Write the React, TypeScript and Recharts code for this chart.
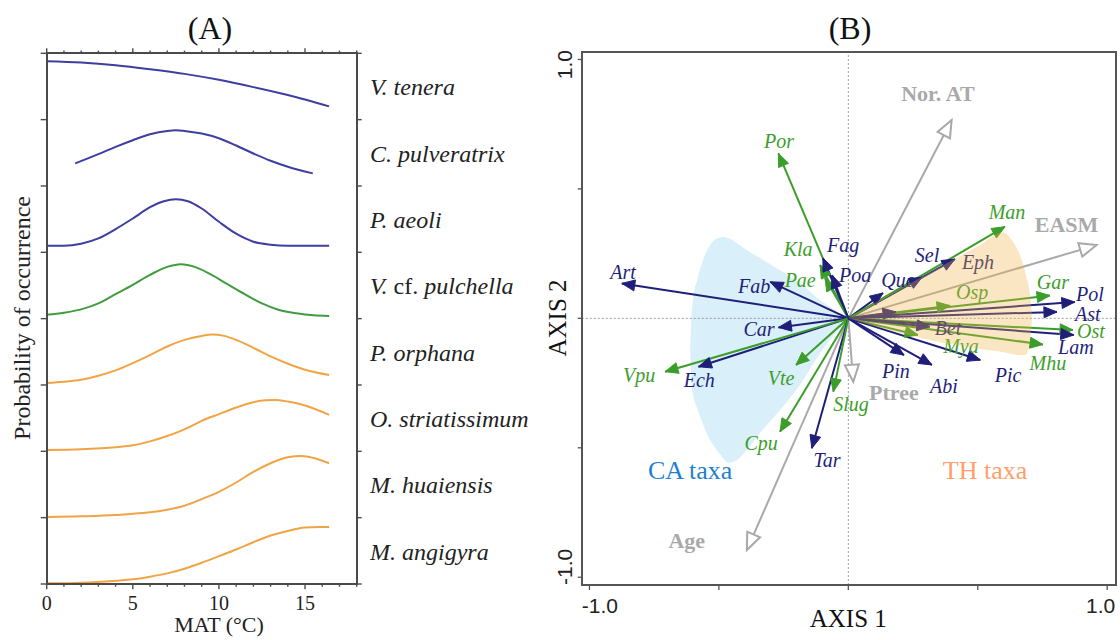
import React from "react";
import {
  LineChart, Line, XAxis, YAxis, ComposedChart, Area, Scatter, ReferenceLine,
} from "recharts";

const SERIF = "'Liberation Serif', 'Times New Roman', serif";
const SANS = "'Liberation Sans', Arial, sans-serif";
const AXIS = "#4a4a4a";
const FRAME_B = "#555";

// ---------- panel A: response curves (probability 0..1 inside each band) ----------
const speciesNames = [
  "V. tenera", "C. pulveratrix", "P. aeoli", "V. cf. pulchella",
  "P. orphana", "O. striatissimum", "M. huaiensis", "M. angigyra",
];
const BLUE = "#3c3f9f";
const GREEN = "#3f9c3f";
const ORANGE = "#f0a445";
const speciesColors = [BLUE, BLUE, BLUE, GREEN, ORANGE, ORANGE, ORANGE, ORANGE];

const tenX = [0, 2, 4, 6, 8, 10, 12, 14, 16.4];
const tenP = [0.88, 0.86, 0.82, 0.76, 0.69, 0.6, 0.49, 0.37, 0.2];
const pulvX = [1.65, 3, 4, 5, 6, 7, 7.5, 8, 9, 10, 11, 12, 13, 14, 15.45];
const pulvP = [0.34, 0.48, 0.59, 0.69, 0.78, 0.83, 0.84, 0.83, 0.79, 0.72, 0.61, 0.49, 0.38, 0.29, 0.19];
const aeoX = [0, 1, 2, 3, 4, 5, 6, 6.8, 7.5, 8.2, 9, 10, 11, 12, 13, 14, 15, 16.4];
const aeoP = [0.1, 0.1, 0.13, 0.21, 0.35, 0.51, 0.68, 0.77, 0.8, 0.77, 0.66, 0.46, 0.28, 0.16, 0.115, 0.1, 0.1, 0.1];
const pulchX = [0, 1, 2, 3, 4, 5, 6, 7, 7.8, 8.6, 9.5, 10.5, 11.5, 12.5, 13.5, 14.5, 15.5, 16.4];
const pulchP = [0.06, 0.09, 0.14, 0.23, 0.37, 0.51, 0.66, 0.78, 0.82, 0.78, 0.67, 0.52, 0.37, 0.23, 0.13, 0.08, 0.05, 0.04];
const orphX = [0, 1, 2, 3, 4, 5, 6, 7, 8, 9, 9.6, 10.3, 11, 12, 13, 14, 15, 16.4];
const orphP = [0.03, 0.05, 0.08, 0.14, 0.22, 0.33, 0.45, 0.58, 0.68, 0.74, 0.76, 0.74, 0.68, 0.56, 0.43, 0.32, 0.23, 0.15];
const strX = [0, 2, 4, 5, 6, 7, 8, 9, 10, 11, 12, 12.7, 13.3, 14, 15, 16.4];
const strP = [0.02, 0.03, 0.06, 0.09, 0.15, 0.23, 0.33, 0.46, 0.56, 0.66, 0.74, 0.77, 0.775, 0.75, 0.69, 0.55];
const huaX = [0, 2, 4, 5, 6, 7, 8, 9, 10, 11, 12, 13, 14, 14.8, 15.5, 16.4];
const huaP = [0.01, 0.02, 0.04, 0.06, 0.08, 0.12, 0.18, 0.28, 0.39, 0.53, 0.69, 0.82, 0.91, 0.93, 0.9, 0.82];
const angX = [0, 2, 4, 5, 6, 7, 8, 9, 10, 11, 12, 13, 14, 15, 15.8, 16.4];
const angP = [0.01, 0.02, 0.05, 0.07, 0.11, 0.16, 0.23, 0.32, 0.42, 0.52, 0.63, 0.73, 0.8, 0.85, 0.86, 0.86];

const curveX = [tenX, pulvX, aeoX, pulchX, orphX, strX, huaX, angX];
const curveP = [tenP, pulvP, aeoP, pulchP, orphP, strP, huaP, angP];

const matTicks = [0, 1, 2, 3, 4, 5, 6, 7, 8, 9, 10, 11, 12, 13, 14, 15, 16, 17, 18];
const matLabels = [0, 5, 10, 15];
const bandTicks = [0, 1, 2, 3, 4, 5, 6, 7, 8];
const nameTicks = [0, 0.5, 1, 1.5, 2, 2.5, 3, 3.5, 4, 4.5, 5, 5.5, 6, 6.5, 7, 7.5, 8];
const MAT_DOM: [number, number] = [0, 18];
const BAND_DOM: [number, number] = [0, 8];

// ---------- panel B: biplot ----------
const taxaNames = [
  "Art", "Fab", "Car", "Ech", "Vpu", "Vte", "Cpu", "Tar", "Slug", "Por", "Kla",
  "Fag", "Pae", "Poa", "Que", "Sel", "Eph", "Man", "Osp", "Gar", "Pol", "Ast",
  "Ost", "Lam", "Mhu", "Bet", "Mya", "Pin", "Abi", "Pic", "",
];
const taxaGroup = [
  "p", "p", "p", "p", "s", "s", "s", "p", "s", "s", "s",
  "p", "s", "p", "p", "p", "p", "s", "s", "s", "p", "p",
  "s", "p", "s", "p", "s", "p", "p", "p", "p",
];
const taxaAxis1 = [
  -0.875, -0.302, -0.27, -0.579, -0.708, -0.202, -0.264, -0.141, -0.058, -0.27, -0.109,
  -0.098, -0.09, -0.063, 0.134, 0.285, 0.412, 0.605, 0.393, 0.779, 0.875, 0.806,
  0.868, 0.871, 0.752, 0.315, 0.269, 0.215, 0.323, 0.51, 0.184,
];
const taxaAxis2 = [
  0.135, 0.141, -0.035, -0.187, -0.206, -0.18, -0.438, -0.502, -0.283, 0.637, 0.206,
  0.233, 0.156, 0.167, 0.098, 0.159, 0.229, 0.354, 0.049, 0.088, 0.063, 0.025,
  -0.045, -0.064, -0.101, -0.032, -0.064, -0.142, -0.18, -0.161, 0.025,
];
const taxaLabelX = [
  -0.87, -0.364, -0.345, -0.576, -0.808, -0.26, -0.337, -0.082, 0.01, -0.268, -0.194,
  -0.02, -0.186, 0.026, 0.192, 0.304, 0.501, 0.613, 0.478, 0.79, 0.933, 0.925,
  0.937, 0.879, 0.771, 0.385, 0.435, 0.184, 0.369, 0.617, 0,
];
const taxaLabelY = [
  0.179, 0.125, -0.041, -0.238, -0.219, -0.231, -0.481, -0.547, -0.331, 0.685, 0.268,
  0.283, 0.148, 0.167, 0.148, 0.244, 0.217, 0.41, 0.102, 0.14, 0.094, 0.017,
  -0.049, -0.111, -0.173, -0.037, -0.107, -0.203, -0.261, -0.219, 0,
];

const envNames = ["Nor. AT", "EASM", "Age", "Ptree"];
const envAxis1 = [0.399, 0.959, -0.392, 0.019];
const envAxis2 = [0.766, 0.283, -0.895, -0.245];
const envLabelX = [0.346, 0.843, -0.624, 0.176];
const envLabelY = [0.87, 0.364, -0.86, -0.285];

// shaded groups (x, lower, upper)
const caX = [-0.611, -0.607, -0.6, -0.584, -0.565, -0.534, -0.503, -0.484, -0.464, -0.437, -0.399, -0.341, -0.264, -0.187, -0.109, 0];
const caLow = [-0.122, -0.231, -0.296, -0.346, -0.4, -0.47, -0.516, -0.539, -0.558, -0.551, -0.516, -0.443, -0.354, -0.257, -0.134, 0];
const caHigh = [-0.122, -0.014, 0.071, 0.148, 0.214, 0.283, 0.31, 0.314, 0.31, 0.295, 0.268, 0.233, 0.186, 0.136, 0.071, 0];
const thX = [0, 0.084, 0.199, 0.354, 0.508, 0.597, 0.632, 0.663, 0.686, 0.702, 0.709];
const thLow = [0, -0.026, -0.057, -0.092, -0.118, -0.13, -0.138, -0.142, -0.142, -0.084, -0.007];
const thHigh = [0, 0.048, 0.113, 0.198, 0.283, 0.333, 0.302, 0.244, 0.167, 0.09, 0.02];

const groupNames = ["CA taxa", "TH taxa"];
const groupX = [-0.611, 0.528];
const groupY = [-0.62, -0.62];
const groupColors = ["#1f7fd0", "#ff9e6a"];

const ordTicks = [-1, -0.5, 0, 0.5, 1];
const X_DOM: [number, number] = [-1.03, 1.034];
const Y_DOM: [number, number] = [-1.03, 1.03];

const NAVY = "#1f1f7a";
const SNAIL = "#3c9e2a";
const GRAY = "#a9a9a9";

// plot-area sizes that follow from the chart sizes and margins below
const A_MARGIN = { top: 52.3, right: 187.3, bottom: 55, left: 45.7 };
const A_W = 545 - A_MARGIN.left - A_MARGIN.right - 2;
const A_H = 640 - A_MARGIN.top - A_MARGIN.bottom - 2;
const B_LEFT = 540;
const B_MARGIN = { top: 50.7, right: 3, bottom: 54, left: 40.7 };
const B_W = 580 - B_MARGIN.left - B_MARGIN.right - 2;
const B_H = 640 - B_MARGIN.top - B_MARGIN.bottom - 2;

function arrowDot(color: string, open: boolean) {
  return (p: any) => {
    const key = `h-${p.index}`;
    if (p.index !== 1 || p.cx == null) return <g key={key} />;
    const a = Math.atan2(-p.payload.y, p.payload.x);
    const L = open ? 17 : 13;
    const W = open ? 7 : 5.5;
    const bx = p.cx - L * Math.cos(a);
    const by = p.cy - L * Math.sin(a);
    const nx = -Math.sin(a) * W;
    const ny = Math.cos(a) * W;
    const pts = `${p.cx},${p.cy} ${bx + nx},${by + ny} ${bx - nx},${by - ny}`;
    return (
      <polygon key={key} points={pts} fill={open ? "#fff" : color}
        stroke={color} strokeWidth={open ? 2 : 1} />
    );
  };
}

function SpeciesName({ name }: { name: string }) {
  if (name.includes(" cf. ")) {
    const [a, b] = name.split(" cf. ");
    return (
      <>
        <tspan>{a + " "}</tspan>
        <tspan fontStyle="normal">{"cf. "}</tspan>
        <tspan>{b}</tspan>
      </>
    );
  }
  return <>{name}</>;
}

// plot frame laid over the chart svg
function Frame({ left, top, width, height, color }: {
  left: number; top: number; width: number; height: number; color: string;
}) {
  return (
    <div style={{
      position: "absolute", left: left - 1, top: top - 1, width: width + 2, height: height + 2,
      border: `2px solid ${color}`, boxSizing: "border-box", pointerEvents: "none", zIndex: 5,
    }} />
  );
}

function PanelA() {
  const series = speciesNames.map((name, i) => ({
    name,
    color: speciesColors[i],
    // alternate between the twin axes so every axis is in use (same domains)
    xId: i % 2 === 0 ? "b" : "t",
    yId: i % 2 === 0 ? "l" : "r",
    data: curveX[i].map((x, j) => ({ x, v: 7 - i + curveP[i][j] })),
  }));
  return (
    <LineChart width={545} height={640} margin={A_MARGIN}>
      <XAxis xAxisId="b" type="number" dataKey="x" domain={MAT_DOM} ticks={matTicks}
        interval={0} height={1} tickSize={0} tickMargin={0} tickLine={false} axisLine={false}
        tick={(p: any) => {
          const v = p.payload.value;
          const major = matLabels.includes(v);
          return (
            <g>
              <line x1={p.x} x2={p.x} y1={p.y} y2={p.y + (major ? 5.3 : 2.7)} stroke={AXIS} strokeWidth={1.4} />
              {major && (
                <text x={p.x} y={p.y + 26} textAnchor="middle" fontFamily={SERIF} fontSize={20} fill="#222">
                  {v}
                </text>
              )}
            </g>
          );
        }} />
      <XAxis xAxisId="t" orientation="top" type="number" dataKey="x" domain={MAT_DOM} ticks={matTicks}
        interval={0} height={1} tickSize={0} tickMargin={0} tickLine={false} axisLine={false}
        tick={(p: any) => {
          const major = matLabels.includes(p.payload.value);
          return <line x1={p.x} x2={p.x} y1={p.y} y2={p.y - (major ? 5 : 2.7)} stroke={AXIS} strokeWidth={1.4} />;
        }} />
      <YAxis yAxisId="l" type="number" domain={BAND_DOM} ticks={bandTicks} interval={0}
        width={1} tickSize={0} tickMargin={0} tickLine={false} axisLine={false}
        tick={(p: any) => <line x1={p.x} x2={p.x - 6} y1={p.y} y2={p.y} stroke={AXIS} strokeWidth={1.4} />} />
      <YAxis yAxisId="r" orientation="right" type="number" domain={BAND_DOM} ticks={nameTicks} interval={0}
        width={1} tickSize={0} tickMargin={0} tickLine={false} axisLine={false}
        tick={(p: any) => {
          const v = p.payload.value;
          if (Number.isInteger(v)) {
            return <line x1={p.x} x2={p.x + 5} y1={p.y} y2={p.y} stroke={AXIS} strokeWidth={1.4} />;
          }
          const name = speciesNames[7 - Math.floor(v)];
          return (
            <text x={p.x + 13.3} y={p.y + 9} fontFamily={SERIF} fontStyle="italic" fontSize={24} fill="#222">
              <SpeciesName name={name} />
            </text>
          );
        }} />
      {series.map((s) => (
        <Line key={s.name} xAxisId={s.xId} yAxisId={s.yId} data={s.data} dataKey="v" type="monotone"
          stroke={s.color} strokeWidth={2} dot={false} activeDot={false} isAnimationActive={false} />
      ))}
      <text x={210} y={38.5} textAnchor="middle" fontFamily={SERIF} fontSize={32} fill="#111">(A)</text>
      <text x={219} y={632} textAnchor="middle" fontFamily={SERIF} fontSize={22} fill="#222">MAT (°C)</text>
      <text x={-318} y={30} transform="rotate(-90)" textAnchor="middle" fontFamily={SERIF} fontSize={24} fill="#222">
        Probability of occurrence
      </text>
    </LineChart>
  );
}

function PanelB() {
  const caData = caX.map((x, i) => ({ x, r: [caLow[i], caHigh[i]] }));
  const thData = thX.map((x, i) => ({ x, r: [thLow[i], thHigh[i]] }));
  const taxa = taxaNames.map((name, i) => ({
    name,
    color: taxaGroup[i] === "s" ? SNAIL : NAVY,
    data: [{ x: 0, y: 0 }, { x: taxaAxis1[i], y: taxaAxis2[i] }],
  }));
  const taxaLabels = taxaNames
    .map((name, i) => ({ name, x: taxaLabelX[i], y: taxaLabelY[i], color: taxaGroup[i] === "s" ? SNAIL : NAVY }))
    .filter((d) => d.name !== "");
  const env = envNames.map((name, i) => ({
    name,
    data: [{ x: 0, y: 0 }, { x: envAxis1[i], y: envAxis2[i] }],
  }));
  const envLabels = envNames.map((name, i) => ({ name, x: envLabelX[i], y: envLabelY[i] }));
  const groups = groupNames.map((name, i) => ({ name, x: groupX[i], y: groupY[i], color: groupColors[i] }));

  return (
    <ComposedChart width={580} height={640} margin={B_MARGIN}>
      <XAxis type="number" dataKey="x" domain={X_DOM} ticks={ordTicks} interval={0}
        height={1} tickSize={0} tickMargin={0} tickLine={false} axisLine={false}
        tick={(p: any) => {
          const v = p.payload.value;
          return (
            <g>
              <line x1={p.x} x2={p.x} y1={p.y} y2={p.y + 5} stroke={FRAME_B} strokeWidth={1.3} />
              {v === -1 && (
                <text x={p.x - 7.6} y={p.y + 28} textAnchor="start" fontFamily={SANS} fontSize={21} fill="#222">-1.0</text>
              )}
              {v === 1 && (
                <text x={p.x + 8} y={p.y + 28} textAnchor="end" fontFamily={SANS} fontSize={21} fill="#222">1.0</text>
              )}
            </g>
          );
        }} />
      <XAxis xAxisId="top" orientation="top" type="number" dataKey="x" domain={X_DOM}
        height={1} tick={false} tickLine={false} axisLine={false} />
      <YAxis type="number" domain={Y_DOM} ticks={ordTicks} interval={0}
        width={1} tickSize={0} tickMargin={0} tickLine={false} axisLine={false}
        tick={(p: any) => {
          const v = p.payload.value;
          const bx = p.x - 9.7;
          return (
            <g>
              <line x1={p.x} x2={p.x - 4} y1={p.y} y2={p.y} stroke={FRAME_B} strokeWidth={1.3} />
              {v === 1 && (
                <text x={bx} y={50} transform={`rotate(-90, ${bx}, 50)`} textAnchor="end"
                  fontFamily={SANS} fontSize={21} fill="#222">1.0</text>
              )}
              {v === -1 && (
                <text x={bx} y={585} transform={`rotate(-90, ${bx}, 585)`} textAnchor="start"
                  fontFamily={SANS} fontSize={21} fill="#222">-1.0</text>
              )}
            </g>
          );
        }} />
      <YAxis yAxisId="right" orientation="right" type="number" domain={Y_DOM}
        width={1} tick={false} tickLine={false} axisLine={false} />

      <Area data={caData} dataKey="r" type="monotone" fill="#d9eff9" fillOpacity={1} stroke="none"
        dot={false} activeDot={false} isAnimationActive={false} />
      <ReferenceLine x={0} stroke="#888" strokeDasharray="2 2" strokeWidth={0.8} />
      <ReferenceLine y={0} stroke="#888" strokeDasharray="2 2" strokeWidth={0.8} />

      {env.map((e) => (
        <Line key={e.name} xAxisId="top" yAxisId="right" data={e.data} dataKey="y" type="linear"
          stroke={GRAY} strokeWidth={2}
          dot={arrowDot(GRAY, true)} activeDot={false} isAnimationActive={false} />
      ))}
      {taxa.map((t, i) => (
        <Line key={`t${i}`} data={t.data} dataKey="y" type="linear" stroke={t.color} strokeWidth={2}
          dot={arrowDot(t.color, false)} activeDot={false} isAnimationActive={false} />
      ))}
      <Scatter data={taxaLabels} dataKey="y" isAnimationActive={false}
        shape={(p: any) => (
          <text x={p.cx} y={p.cy + 7} textAnchor="middle" fontFamily={SERIF} fontStyle="italic"
            fontSize={20} fill={p.payload.color}>{p.payload.name}</text>
        )} />
      <Scatter data={envLabels} dataKey="y" isAnimationActive={false}
        shape={(p: any) => (
          <text x={p.cx} y={p.cy + 7.5} textAnchor="middle" fontFamily={SERIF} fontWeight="bold"
            fontSize={22} fill={GRAY}>{p.payload.name}</text>
        )} />
      <Scatter data={groups} dataKey="y" isAnimationActive={false}
        shape={(p: any) => (
          <text x={p.cx} y={p.cy} textAnchor="middle" fontFamily={SERIF} fontSize={26}
            fill={p.payload.color}>{p.payload.name}</text>
        )} />
      <Area data={thData} dataKey="r" type="monotone" fill="#f0b040" fillOpacity={0.32} stroke="none"
        dot={false} activeDot={false} isAnimationActive={false} {...({ zIndex: 1500 } as any)} />

      <text x={310} y={38.5} textAnchor="middle" fontFamily={SERIF} fontSize={32} fill="#111">(B)</text>
      <text x={308.3} y={627} textAnchor="middle" fontFamily={SERIF} fontSize={25} fill="#111">AXIS 1</text>
      <text x={-318} y={26} transform="rotate(-90)" textAnchor="middle" fontFamily={SERIF} fontSize={25} fill="#111">
        AXIS 2
      </text>
    </ComposedChart>
  );
}

export default function App() {
  return (
    <div style={{ position: "absolute", left: 0, top: 0, width: 1120, height: 640, background: "#fff" }}>
      <div style={{ position: "absolute", left: 0, top: 0 }}>
        <PanelA />
      </div>
      <div style={{ position: "absolute", left: B_LEFT, top: 0 }}>
        <PanelB />
      </div>
      <Frame left={A_MARGIN.left + 1} top={A_MARGIN.top + 1} width={A_W} height={A_H} color={AXIS} />
      <Frame left={B_LEFT + B_MARGIN.left + 1} top={B_MARGIN.top + 1} width={B_W} height={B_H} color={FRAME_B} />
    </div>
  );
}
